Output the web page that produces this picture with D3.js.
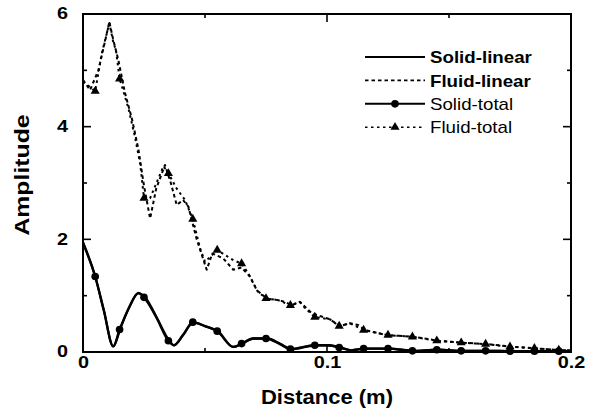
<!DOCTYPE html>
<html>
<head>
<meta charset="utf-8">
<script src="https://cdn.jsdelivr.net/npm/d3@7"></script>
<style>
  html, body { margin: 0; padding: 0; background: #fff; }
  svg { display: block; }
  text { font-family: "Liberation Sans", Arial, Helvetica, sans-serif; fill: #000; }
</style>
</head>
<body>
<svg id="chart" width="598" height="413"></svg>
<script>
// ---- data ----
const solidLinearX = [0, 0.005, 0.0085, 0.0124, 0.0155, 0.019, 0.0227, 0.0258, 0.03, 0.0354, 0.0373, 0.041, 0.0452, 0.05, 0.0555, 0.0616, 0.0654, 0.0698, 0.0755, 0.0807, 0.0855, 0.0958, 0.1004, 0.1057, 0.11, 0.116, 0.1258, 0.1358, 0.1459, 0.156, 0.1657, 0.1757, 0.1857, 0.1952, 0.2];
const solidLinearY = [1.95, 1.34, 0.75, 0.1, 0.44, 0.8, 1.04, 0.95, 0.63, 0.2, 0.12, 0.3, 0.52, 0.46, 0.36, 0.09, 0.15, 0.24, 0.24, 0.15, 0.05, 0.12, 0.12, 0.08, 0.03, 0.06, 0.06, 0.02, 0.04, 0.02, 0.02, 0.015, 0.015, 0.015, 0.015];

const solidTotalX = [0, 0.005, 0.0085, 0.0124, 0.015, 0.019, 0.0227, 0.025, 0.03, 0.035, 0.0373, 0.041, 0.045, 0.05, 0.055, 0.0616, 0.065, 0.0698, 0.075, 0.0807, 0.085, 0.095, 0.1004, 0.105, 0.11, 0.115, 0.125, 0.135, 0.145, 0.155, 0.165, 0.175, 0.185, 0.195, 0.2];
const solidTotalY = [1.93, 1.34, 0.74, 0.1, 0.4, 0.8, 1.05, 0.97, 0.62, 0.2, 0.12, 0.3, 0.53, 0.46, 0.37, 0.09, 0.15, 0.24, 0.24, 0.14, 0.05, 0.12, 0.12, 0.08, 0.03, 0.06, 0.06, 0.02, 0.04, 0.02, 0.02, 0.015, 0.015, 0.015, 0.015];

const fluidLinearX = [0, 0.0029, 0.0063, 0.009, 0.0108, 0.0124, 0.0145, 0.0172, 0.02, 0.0227, 0.025, 0.0275, 0.03, 0.0336, 0.036, 0.0384, 0.041, 0.0432, 0.0466, 0.0507, 0.053, 0.0575, 0.0616, 0.065, 0.0684, 0.0712, 0.0753, 0.08, 0.0828, 0.0855, 0.0889, 0.0937, 0.1012, 0.1053, 0.1094, 0.1128, 0.1156, 0.1245, 0.1354, 0.1456, 0.1556, 0.1657, 0.1757, 0.1857, 0.1952, 0.2];
const fluidLinearY = [4.83, 4.65, 5.0, 5.51, 5.86, 5.54, 5.18, 4.6, 4.15, 3.6, 2.95, 2.37, 2.9, 3.32, 3.0, 2.61, 2.7, 2.58, 2.0, 1.46, 1.75, 1.66, 1.46, 1.5, 1.34, 1.1, 0.95, 0.92, 0.89, 0.83, 0.89, 0.69, 0.58, 0.46, 0.51, 0.48, 0.39, 0.3, 0.27, 0.2, 0.165, 0.14, 0.095, 0.065, 0.035, 0.03];

const fluidTotalX = [0, 0.005, 0.0077, 0.0108, 0.0124, 0.0135, 0.015, 0.0186, 0.0213, 0.0234, 0.025, 0.0275, 0.033, 0.035, 0.0384, 0.0418, 0.045, 0.048, 0.05, 0.055, 0.0616, 0.065, 0.0677, 0.0715, 0.075, 0.08, 0.085, 0.0889, 0.091, 0.095, 0.1012, 0.105, 0.1094, 0.115, 0.125, 0.135, 0.145, 0.155, 0.165, 0.175, 0.185, 0.195, 0.2];
const fluidTotalY = [4.8, 4.63, 5.3, 5.84, 5.5, 5.36, 4.85, 4.33, 3.82, 3.35, 2.73, 2.73, 3.3, 3.17, 2.9, 2.7, 2.36, 1.84, 1.6, 1.81, 1.63, 1.57, 1.4, 1.08, 0.95, 0.92, 0.83, 0.89, 0.78, 0.62, 0.58, 0.46, 0.51, 0.39, 0.3, 0.27, 0.2, 0.165, 0.14, 0.095, 0.065, 0.035, 0.03];

// markers of the "total" series sit on this x grid
const markerX = d3.range(20).map(i => +(0.005 + 0.01 * i).toFixed(3));

const xTickLabels = [0, 0.1, 0.2];
const xMinorTicks = [0.05, 0.15];
const yTickLabels = [0, 2, 4, 6];
const yMinorTicks = [1, 3, 5];

const legendNames = ["Solid-linear", "Fluid-linear", "Solid-total", "Fluid-total"];

// ---- layout ----
const svg = d3.select("#chart");
const plotL = 83, plotR = 571, plotT = 14, plotB = 352;
const x = d3.scaleLinear().domain([0, 0.2]).range([plotL, plotR]);
const y = d3.scaleLinear().domain([0, 6]).range([plotB, plotT]);

// stretch text horizontally for the wide lettering
function widen(sel, k) {
  sel.each(function () {
    const len = this.getComputedTextLength();
    d3.select(this).attr("textLength", len * k).attr("lengthAdjust", "spacingAndGlyphs");
  });
}

const zip = (xs, ys) => xs.map((v, i) => [v, ys[i]]);

const series = [
  { name: "Solid-linear", pts: zip(solidLinearX, solidLinearY), dash: null, width: 2.3, marker: null, curve: d3.curveMonotoneX },
  { name: "Fluid-linear", pts: zip(fluidLinearX, fluidLinearY), dash: "3.5,3", width: 2, marker: null, curve: d3.curveLinear },
  { name: "Solid-total", pts: zip(solidTotalX, solidTotalY), dash: null, width: 2.3, marker: "circle", curve: d3.curveMonotoneX },
  { name: "Fluid-total", pts: zip(fluidTotalX, fluidTotalY), dash: "2.5,3.5", width: 2, marker: "triangle", curve: d3.curveLinear }
];

const plot = svg.append("g");
series.forEach(s => {
  const line = d3.line().x(d => x(d[0])).y(d => y(d[1])).curve(s.curve);
  plot.append("path")
    .datum(s.pts)
    .attr("d", line)
    .attr("fill", "none")
    .attr("stroke", "#000")
    .attr("stroke-width", s.width)
    .attr("stroke-linejoin", "round")
    .attr("stroke-dasharray", s.dash);
});

const circleSym = d3.symbol().type(d3.symbolCircle).size(46);
const triSym = d3.symbol().type(d3.symbolTriangle).size(36);
const onGrid = d => markerX.some(m => Math.abs(m - d[0]) < 1e-6);

series.filter(s => s.marker).forEach(s => {
  plot.selectAll(null)
    .data(s.pts.filter(onGrid))
    .join("path")
    .attr("transform", d => `translate(${x(d[0])},${y(d[1])})`)
    .attr("d", s.marker === "circle" ? circleSym : triSym)
    .attr("fill", "#000");
});

// ---- frame and ticks (inward, all four sides) ----
const axes = svg.append("g").attr("stroke", "#000").attr("stroke-width", 1.6);
axes.append("rect")
  .attr("x", plotL).attr("y", plotT)
  .attr("width", plotR - plotL).attr("height", plotB - plotT)
  .attr("fill", "none").attr("stroke-width", 2);

const majLen = 8, minLen = 4;
[[xTickLabels, majLen], [xMinorTicks, minLen]].forEach(([vals, len]) => {
  vals.forEach(v => {
    axes.append("line").attr("x1", x(v)).attr("x2", x(v)).attr("y1", plotB).attr("y2", plotB - len);
    axes.append("line").attr("x1", x(v)).attr("x2", x(v)).attr("y1", plotT).attr("y2", plotT + len);
  });
});
[[yTickLabels, majLen], [yMinorTicks, minLen]].forEach(([vals, len]) => {
  vals.forEach(v => {
    axes.append("line").attr("y1", y(v)).attr("y2", y(v)).attr("x1", plotL).attr("x2", plotL + len);
    axes.append("line").attr("y1", y(v)).attr("y2", y(v)).attr("x1", plotR).attr("x2", plotR - len);
  });
});

// ---- tick labels via d3 axes ----
const xAxis = svg.append("g")
  .attr("transform", `translate(0,${plotB + 2})`)
  .call(d3.axisBottom(x).tickValues(xTickLabels).tickSize(0).tickPadding(0).tickFormat(d3.format("")));
const yAxis = svg.append("g")
  .attr("transform", `translate(${plotL - 15},0)`)
  .call(d3.axisLeft(y).tickValues(yTickLabels).tickSize(0).tickPadding(0).tickFormat(d3.format("d")));
[xAxis, yAxis].forEach(g => {
  g.select(".domain").remove();
  g.selectAll("text")
    .attr("font-family", "Liberation Sans, Arial, sans-serif")
    .attr("font-size", 16.5)
    .attr("font-weight", "bold")
    .attr("fill", "#000");
});
xAxis.selectAll("text").attr("dy", "0.85em");
yAxis.selectAll("text").attr("dy", "0.3em");
widen(xAxis.selectAll("text"), 1.2);
widen(yAxis.selectAll("text"), 1.2);

// ---- axis titles ----
svg.append("text")
  .attr("x", (plotL + plotR) / 2).attr("y", 404)
  .attr("text-anchor", "middle")
  .attr("font-size", 20).attr("font-weight", "bold")
  .text("Distance (m)")
  .call(widen, 1.1);

svg.append("text")
  .attr("transform", "translate(29,175) rotate(-90)")
  .attr("text-anchor", "middle")
  .attr("font-size", 21).attr("font-weight", "bold")
  .text("Amplitude")
  .call(widen, 1.18);

// ---- legend ----
const legend = svg.append("g");
legendNames.forEach((name, i) => {
  const s = series.find(d => d.name === name);
  const ly = 57 + i * 23.4;
  legend.append("line")
    .attr("x1", 365).attr("x2", 425).attr("y1", ly).attr("y2", ly)
    .attr("stroke", "#000").attr("stroke-width", s.dash ? 1.6 : 2)
    .attr("stroke-dasharray", s.dash);
  if (s.marker) {
    legend.append("path")
      .attr("transform", `translate(395,${ly})`)
      .attr("d", s.marker === "circle" ? circleSym : triSym)
      .attr("fill", "#000");
  }
  legend.append("text")
    .attr("x", 430).attr("y", ly).attr("dy", "0.36em")
    .attr("font-size", 17)
    .attr("font-weight", i < 2 ? "bold" : "normal")
    .text(name)
    .call(widen, 1.1);
});
</script>
</body>
</html>
